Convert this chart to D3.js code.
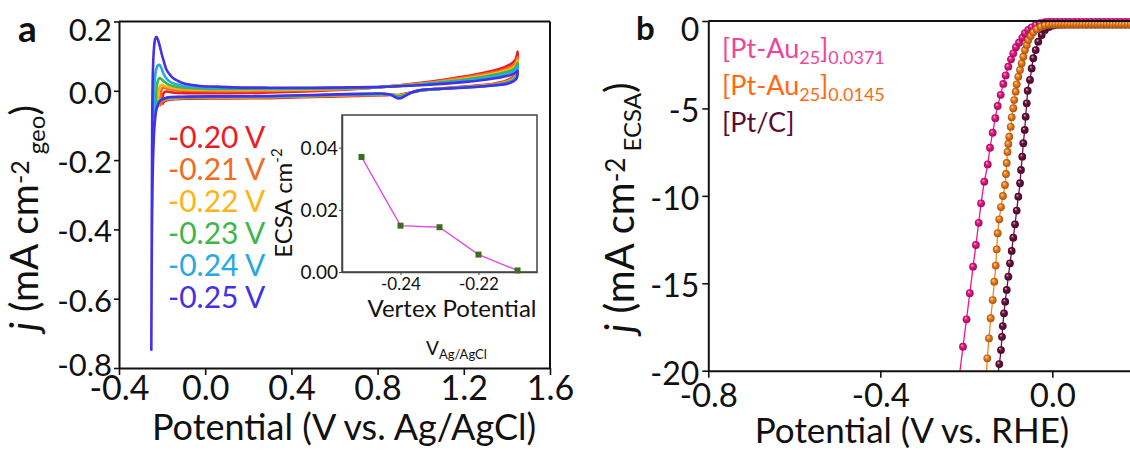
<!DOCTYPE html>
<html><head><meta charset="utf-8">
<script src="https://cdn.jsdelivr.net/npm/d3@7"></script>
<style>
body{margin:0;background:#fff}
svg{display:block}
text{font-family:Lato,"Open Sans",sans-serif;fill:#111}
</style>
</head><body>
<svg id="chart" width="1130" height="453"></svg>
<script>
// ---------------- DATA ----------------
// Panel a: CV loops [potential V vs Ag/AgCl, current mA cm-2 geo]
const cvLabels = ["-0.20 V","-0.21 V","-0.22 V","-0.23 V","-0.24 V","-0.25 V"];
const cv_m020 = [[-0.20,-0.04],[-0.198,-0.02],[-0.194,-0.008],[-0.188,-0.003],[-0.18,-0.002],[-0.16,-0.004],[-0.12,-0.006],[-0.05,-0.007],[0.1,-0.007],[0.3,-0.005],[0.5,-0.001],[0.7,0.005],[0.8,0.01],[0.9,0.016],[1.0,0.023],[1.1,0.031],[1.2,0.041],[1.3,0.053],[1.38,0.066],[1.42,0.078],[1.44,0.09],[1.45,0.113],
  [1.45,0.09],[1.445,0.06],[1.43,0.041],[1.4,0.03],[1.35,0.022],[1.3,0.017],[1.2,0.012],[1.1,0.007],[1.0,0.001],[0.96,-0.004],[0.93,-0.008],[0.91,-0.011],[0.895,-0.012],[0.88,-0.012],[0.86,-0.012],[0.82,-0.013],[0.7,-0.015],[0.5,-0.018],[0.3,-0.021],[0.1,-0.022],[-0.1,-0.023],[-0.16,-0.025],[-0.185,-0.029],[-0.195,-0.034],[-0.2,-0.04]];
const cv_m021 = [[-0.21,-0.045],[-0.208,-0.02],[-0.204,0.0],[-0.198,0.008],[-0.19,0.009],[-0.175,0.006],[-0.14,0.002],[-0.08,0.0],[0.0,-0.001],[0.2,-0.001],[0.5,0.002],[0.7,0.006],[0.8,0.01],[0.9,0.015],[1.0,0.021],[1.1,0.029],[1.2,0.038],[1.3,0.049],[1.38,0.06],[1.42,0.07],[1.44,0.08],[1.45,0.098],
  [1.45,0.08],[1.445,0.055],[1.43,0.038],[1.4,0.028],[1.35,0.02],[1.3,0.016],[1.2,0.011],[1.1,0.006],[1.0,0.001],[0.96,-0.005],[0.93,-0.009],[0.91,-0.012],[0.895,-0.013],[0.88,-0.012],[0.86,-0.011],[0.82,-0.012],[0.7,-0.013],[0.5,-0.016],[0.3,-0.019],[0.1,-0.02],[-0.1,-0.021],[-0.17,-0.024],[-0.195,-0.029],[-0.205,-0.035],[-0.21,-0.045]];
const cv_m022 = [[-0.22,-0.05],[-0.218,-0.02],[-0.214,0.005],[-0.208,0.015],[-0.2,0.017],[-0.19,0.014],[-0.17,0.01],[-0.13,0.006],[-0.08,0.004],[0.0,0.003],[0.2,0.002],[0.5,0.004],[0.7,0.007],[0.8,0.01],[0.9,0.015],[1.0,0.02],[1.1,0.027],[1.2,0.035],[1.3,0.045],[1.38,0.056],[1.42,0.064],[1.44,0.073],[1.45,0.088],
  [1.45,0.075],[1.445,0.05],[1.43,0.035],[1.4,0.026],[1.35,0.019],[1.3,0.015],[1.2,0.01],[1.1,0.006],[1.0,0.001],[0.96,-0.005],[0.93,-0.01],[0.91,-0.013],[0.895,-0.014],[0.88,-0.013],[0.86,-0.011],[0.82,-0.011],[0.7,-0.012],[0.5,-0.015],[0.3,-0.018],[0.1,-0.019],[-0.1,-0.02],[-0.18,-0.023],[-0.205,-0.028],[-0.215,-0.036],[-0.22,-0.05]];
const cv_m023 = [[-0.23,-0.06],[-0.228,-0.02],[-0.224,0.015],[-0.218,0.032],[-0.212,0.037],[-0.204,0.034],[-0.19,0.026],[-0.17,0.018],[-0.13,0.011],[-0.08,0.008],[0.0,0.006],[0.2,0.005],[0.5,0.006],[0.7,0.008],[0.8,0.01],[0.9,0.014],[1.0,0.019],[1.1,0.025],[1.2,0.032],[1.3,0.041],[1.38,0.051],[1.42,0.059],[1.44,0.067],[1.45,0.08],
  [1.45,0.068],[1.445,0.045],[1.43,0.032],[1.4,0.024],[1.35,0.018],[1.3,0.014],[1.2,0.01],[1.1,0.006],[1.0,0.001],[0.96,-0.005],[0.93,-0.011],[0.91,-0.015],[0.895,-0.016],[0.88,-0.014],[0.86,-0.011],[0.82,-0.01],[0.7,-0.011],[0.5,-0.014],[0.3,-0.017],[0.1,-0.018],[-0.1,-0.019],[-0.18,-0.022],[-0.21,-0.028],[-0.222,-0.038],[-0.23,-0.06]];
const cv_m024 = [[-0.24,-0.08],[-0.238,-0.02],[-0.234,0.03],[-0.228,0.06],[-0.22,0.073],[-0.213,0.075],[-0.205,0.068],[-0.194,0.05],[-0.18,0.036],[-0.163,0.026],[-0.13,0.018],[-0.102,0.014],[-0.05,0.011],[0.0,0.009],[0.1,0.008],[0.3,0.007],[0.5,0.008],[0.7,0.009],[0.8,0.011],[0.9,0.014],[1.0,0.018],[1.1,0.023],[1.2,0.029],[1.3,0.037],[1.38,0.046],[1.42,0.053],[1.44,0.06],[1.45,0.07],
  [1.45,0.06],[1.445,0.04],[1.43,0.03],[1.4,0.022],[1.35,0.017],[1.3,0.014],[1.2,0.01],[1.1,0.006],[1.0,0.002],[0.96,-0.004],[0.93,-0.012],[0.91,-0.018],[0.895,-0.019],[0.88,-0.016],[0.86,-0.011],[0.82,-0.009],[0.7,-0.01],[0.5,-0.013],[0.3,-0.016],[0.1,-0.017],[-0.1,-0.018],[-0.18,-0.021],[-0.21,-0.028],[-0.225,-0.04],[-0.235,-0.06],[-0.24,-0.08]];
const cv_m025 = [[-0.250,-0.75],[-0.248,-0.4],[-0.246,-0.1],[-0.243,0.05],[-0.238,0.12],[-0.232,0.15],[-0.226,0.156],[-0.218,0.145],[-0.21,0.127],[-0.202,0.107],[-0.194,0.089],[-0.179,0.06],[-0.162,0.045],[-0.148,0.036],[-0.125,0.028],[-0.102,0.022],[-0.06,0.017],[-0.024,0.014],[0.05,0.012],[0.129,0.010],[0.3,0.009],[0.5,0.009],[0.7,0.01],[0.8,0.011],[0.9,0.013],[1.0,0.016],[1.1,0.02],[1.2,0.025],[1.3,0.032],[1.38,0.04],[1.42,0.046],[1.44,0.052],[1.45,0.058],
  [1.45,0.05],[1.445,0.035],[1.43,0.027],[1.40,0.02],[1.35,0.016],[1.3,0.013],[1.2,0.009],[1.1,0.006],[1.0,0.002],[0.96,-0.004],[0.93,-0.014],[0.91,-0.021],[0.895,-0.022],[0.88,-0.018],[0.86,-0.011],[0.82,-0.008],[0.7,-0.009],[0.5,-0.012],[0.3,-0.015],[0.1,-0.016],[-0.1,-0.017],[-0.18,-0.02],[-0.21,-0.03],[-0.225,-0.05],[-0.235,-0.1],[-0.242,-0.2],[-0.247,-0.4],[-0.25,-0.75]];
const cvSeries = [cv_m020, cv_m021, cv_m022, cv_m023, cv_m024, cv_m025];
const xTicksA = [-0.4, 0.0, 0.4, 0.8, 1.2, 1.6];
const yTicksA = [0.2, 0.0, -0.2, -0.4, -0.6, -0.8];

// Inset: ECSA vs vertex potential
const insetVertex = [-0.25, -0.24, -0.23, -0.22, -0.21];
const insetECSA   = [0.0370, 0.0149, 0.0144, 0.0056, 0.0005];
const xTicksInset = [-0.24, -0.22];
const yTicksInset = [0.00, 0.02, 0.04];

// Panel b: LSV [potential V vs RHE, j mA cm-2 ECSA]
const lsvNames = ["[Pt-Au25]0.0371","[Pt-Au25]0.0145","[Pt/C]"];
const lsvPink = [[-0.2172,-20.5],[-0.2077,-18.63],[-0.1995,-17.06],[-0.1919,-15.57],[-0.1842,-14.05],[-0.1777,-12.81],[-0.1712,-11.54],[-0.1656,-10.43],[-0.1581,-9.19],[-0.1502,-8.20],[-0.1449,-7.25],[-0.1386,-6.39],[-0.1326,-5.56],[-0.1270,-4.86],[-0.1200,-4.22],[-0.1140,-3.60],[-0.1084,-3.11],[-0.1023,-2.61],[-0.0960,-2.19],[-0.0907,-1.85],[-0.0844,-1.50],[-0.0774,-1.24],[-0.0698,-0.96],[-0.0635,-0.70],[-0.0558,-0.51],[-0.0479,-0.36],[-0.0386,-0.23],[-0.0286,-0.13],[-0.0170,-0.07],[-0.008,-0.05],[0.0,-0.05],[0.01,-0.05],[0.02,-0.05],[0.03,-0.05],[0.04,-0.05],[0.05,-0.05],[0.06,-0.05],[0.07,-0.05],[0.08,-0.05],[0.09,-0.05],[0.10,-0.05],[0.11,-0.05],[0.12,-0.05],[0.13,-0.05],[0.14,-0.05],[0.15,-0.05],[0.16,-0.05],[0.17,-0.05],[0.18,-0.05],[0.19,-0.05]];
const lsvOrange = [[-0.1542,-20.5],[-0.1512,-19.29],[-0.1472,-18.15],[-0.1433,-17.00],[-0.1386,-15.96],[-0.1349,-14.91],[-0.1316,-13.99],[-0.1293,-13.06],[-0.1270,-12.14],[-0.1233,-11.34],[-0.1193,-10.64],[-0.1147,-10.01],[-0.1100,-9.38],[-0.1077,-8.75],[-0.1060,-8.12],[-0.1042,-7.49],[-0.1023,-7.03],[-0.1000,-6.62],[-0.0967,-6.05],[-0.0944,-5.51],[-0.0907,-4.99],[-0.0884,-4.52],[-0.0851,-4.04],[-0.0828,-3.62],[-0.0791,-3.19],[-0.0751,-2.80],[-0.0712,-2.42],[-0.0674,-2.04],[-0.0635,-1.66],[-0.0595,-1.37],[-0.0558,-1.09],[-0.0502,-0.86],[-0.0442,-0.65],[-0.0363,-0.47],[-0.0270,-0.33],[-0.0170,-0.25],[-0.008,-0.22],[0.0,-0.21],[0.007,-0.21],[0.014,-0.2],[0.021,-0.2],[0.028,-0.2],[0.035,-0.2],[0.042,-0.2],[0.049,-0.2],[0.056,-0.2],[0.063,-0.2],[0.070,-0.2],[0.077,-0.2],[0.084,-0.2],[0.091,-0.2],[0.098,-0.2],[0.105,-0.2],[0.112,-0.2],[0.119,-0.2],[0.126,-0.2],[0.133,-0.2],[0.140,-0.2],[0.147,-0.2],[0.154,-0.2],[0.161,-0.2],[0.168,-0.2],[0.175,-0.2],[0.182,-0.2],[0.189,-0.2]];
const lsvMaroon = [[-0.1279,-20.5],[-0.1233,-19.62],[-0.1193,-18.82],[-0.1170,-18.06],[-0.1153,-17.45],[-0.1123,-16.72],[-0.1095,-16.05],[-0.1060,-15.38],[-0.1023,-14.62],[-0.0984,-13.86],[-0.0944,-13.15],[-0.0907,-12.39],[-0.0867,-11.63],[-0.0828,-10.84],[-0.0791,-10.05],[-0.0751,-9.28],[-0.0728,-8.52],[-0.0698,-7.76],[-0.0674,-6.99],[-0.0642,-6.23],[-0.0619,-5.47],[-0.0595,-4.71],[-0.0572,-3.99],[-0.0519,-3.37],[-0.0479,-2.71],[-0.0442,-2.13],[-0.0386,-1.66],[-0.0326,-1.18],[-0.0247,-0.80],[-0.0170,-0.51],[-0.0077,-0.34],[0.0016,-0.26],[0.01,-0.22],[0.02,-0.21],[0.03,-0.2],[0.04,-0.2],[0.05,-0.2],[0.06,-0.2],[0.07,-0.2],[0.08,-0.2],[0.09,-0.2],[0.10,-0.2],[0.11,-0.2],[0.12,-0.2],[0.13,-0.2],[0.14,-0.2],[0.15,-0.2],[0.16,-0.2],[0.17,-0.2],[0.18,-0.2],[0.19,-0.2]];
const lsvSeries = [lsvPink, lsvOrange, lsvMaroon];
const xTicksB = [-0.8, -0.4, 0.0];
const yTicksB = [0, -5, -10, -15, -20];

// ---------------- STYLES ----------------
const cvColors = ["#ec1c24","#f36a21","#fbb515","#3cb649","#25a9e0","#4431e6"];
const lsvColors = ["#ee1688","#f7801a","#6b1040"];
const lsvTextColors = ["#f0449c","#ff6a10","#5a0c36"];
const hy = s => s.replace(/\u2212/g, "-");

const svg = d3.select("#chart");
const defs = svg.append("defs");

// ---------------- PANEL A ----------------
const xA = d3.scaleLinear().domain([-0.4, 1.6]).range([119, 550]);
const yA = d3.scaleLinear().domain([-0.8, 0.2]).range([368, 21.5]);

defs.append("clipPath").attr("id","clipA").append("rect")
  .attr("x",119).attr("y",21.5).attr("width",431).attr("height",346.5);

const gA = svg.append("g");
const cvLine = d3.line().x(d => xA(d[0])).y(d => yA(d[1])).curve(d3.curveCatmullRom.alpha(0.5));
gA.append("g").attr("clip-path","url(#clipA)")
  .selectAll("path").data(cvSeries).join("path")
  .attr("d", cvLine).attr("fill","none")
  .attr("stroke",(d,i)=>cvColors[i]).attr("stroke-width",2.6).attr("stroke-linejoin","round");

// frame top/right
gA.append("line").attr("x1",119).attr("x2",550).attr("y1",21.5).attr("y2",21.5).attr("stroke","#111").attr("stroke-width",2);
gA.append("line").attr("x1",550).attr("x2",550).attr("y1",21.5).attr("y2",368).attr("stroke","#111").attr("stroke-width",2);

const axA_x = gA.append("g").attr("transform","translate(0,368)")
  .call(d3.axisBottom(xA).tickValues(xTicksA).tickSize(7).tickSizeOuter(0).tickFormat(d=>hy(d3.format(".1f")(d))));
axA_x.selectAll("text").attr("font-size",34).attr("y",32).attr("dy",0).attr("fill","#111");
const axA_y = gA.append("g").attr("transform","translate(119,0)")
  .call(d3.axisLeft(yA).tickValues(yTicksA).tickSize(5).tickSizeOuter(0).tickFormat(d=>hy(d3.format(".1f")(d))));
axA_y.selectAll("text").attr("font-size",31).attr("x",-7)
  .attr("dy",(d)=> d===0.2 ? "0.62em" : (d===-0.8 ? "0.25em" : "0.4em")).attr("fill","#111");
[axA_x, axA_y].forEach(a=>{a.select(".domain").attr("stroke","#111").attr("stroke-width",2); a.selectAll(".tick line").attr("stroke","#111").attr("stroke-width",1.6);});

// legend a
gA.append("g").selectAll("text").data(cvLabels).join("text")
  .attr("x",168).attr("y",(d,i)=>148+32*i).attr("font-size",30)
  .style("fill",(d,i)=>cvColors[i]).text(d=>d);

// y label a
const yLabA = svg.append("text").attr("transform","translate(38,331) rotate(-90)").attr("font-size",39);
yLabA.append("tspan").attr("font-style","italic").text("j");
yLabA.append("tspan").text(" (mA cm");
yLabA.append("tspan").attr("font-size",25).attr("dy",-9).text("-2");
yLabA.append("tspan").attr("font-size",24).attr("dy",16).text(" geo");
yLabA.append("tspan").attr("dy",-7).text(")");
// x label a
svg.append("text").attr("x",344).attr("y",440).attr("text-anchor","middle").attr("font-size",36).text("Potential (V vs. Ag/AgCl)");
svg.append("text").attr("x",18).attr("y",42).attr("font-size",37).attr("font-weight","bold").text("a");

// ---------------- INSET ----------------
const xI = d3.scaleLinear().domain([-0.255, -0.205]).range([342, 537]);
const yI = d3.scaleLinear().domain([0, 0.0505]).range([272, 115]);
const gI = svg.append("g");
gI.append("rect").attr("x",342).attr("y",115).attr("width",195).attr("height",157).attr("fill","#fff").attr("stroke","#444").attr("stroke-width",1.5);
const axI_x = gI.append("g").attr("transform","translate(0,272)")
  .call(d3.axisBottom(xI).tickValues(xTicksInset).tickSize(3).tickSizeOuter(0).tickFormat(d=>hy(d3.format(".2f")(d))));
axI_x.selectAll("text").attr("font-size",17).attr("y",18).attr("dy",0).attr("fill","#111");
const axI_y = gI.append("g").attr("transform","translate(342,0)")
  .call(d3.axisLeft(yI).tickValues(yTicksInset).tickSize(3).tickSizeOuter(0).tickFormat(d3.format(".2f")));
axI_y.selectAll("text").attr("font-size",19).attr("x",-4).attr("dy","0.36em").attr("fill","#111");
[axI_x, axI_y].forEach(a=>{a.select(".domain").attr("stroke","#444").attr("stroke-width",1.5); a.selectAll(".tick line").attr("stroke","#444");});
const insetPts = insetVertex.map((v,i)=>[v, insetECSA[i]]);
gI.append("path").datum(insetPts).attr("d", d3.line().x(d=>xI(d[0])).y(d=>yI(d[1])))
  .attr("fill","none").attr("stroke","#e04ee0").attr("stroke-width",1.4);
gI.selectAll("rect.m").data(insetPts).join("rect").attr("class","m")
  .attr("x",d=>xI(d[0])-3).attr("y",d=>yI(d[1])-3).attr("width",6).attr("height",6)
  .attr("fill","#3c6e1c");
const yLabI = gI.append("text").attr("transform","translate(292,203) rotate(-90)").attr("text-anchor","middle").attr("font-size",24);
yLabI.append("tspan").text("ECSA cm");
yLabI.append("tspan").attr("font-size",15).attr("dy",-10).text("-2");
gI.append("text").attr("x",452).attr("y",317).attr("text-anchor","middle").attr("font-size",24).text("Vertex Potential");
const vLab = gI.append("text").attr("x",426).attr("y",355).attr("font-size",19);
vLab.append("tspan").text("V");
vLab.append("tspan").attr("font-size",13).attr("dy",4).text("Ag/AgCl");

// ---------------- PANEL B ----------------
const xB = d3.scaleLinear().domain([-0.8, 0.2]).range([708.3, 1138.3]);
const yB = d3.scaleLinear().domain([-20, 0]).range([370.7, 21]);
defs.append("clipPath").attr("id","clipB").append("rect")
  .attr("x",708.3).attr("y",10).attr("width",430).attr("height",360.7);

lsvColors.forEach((c,i)=>{
  const g = defs.append("radialGradient").attr("id","ball"+i).attr("cx","50%").attr("cy","50%").attr("r","50%").attr("fx","35%").attr("fy","30%");
  g.append("stop").attr("offset","0%").attr("stop-color", d3.interpolateRgb(c,"#fff")(0.75));
  g.append("stop").attr("offset","40%").attr("stop-color", c);
  g.append("stop").attr("offset","100%").attr("stop-color", d3.interpolateRgb(c,"#000")(0.35));
});

const gB = svg.append("g");
const lsvLine = d3.line().x(d=>xB(d[0])).y(d=>yB(d[1])).curve(d3.curveMonotoneX);
const drawOrder = [2, 0, 1];
const plotB = gB.append("g").attr("clip-path","url(#clipB)");
drawOrder.forEach(i=>{
  const s = plotB.append("g");
  s.append("path").datum(lsvSeries[i]).attr("d", lsvLine).attr("fill","none")
    .attr("stroke", lsvColors[i]).attr("stroke-width",1.3);
  s.selectAll("circle").data(lsvSeries[i]).join("circle")
    .attr("cx",d=>xB(d[0])).attr("cy",d=>yB(d[1])).attr("r",3.9)
    .attr("fill","url(#ball"+i+")");
});

gB.append("line").attr("x1",708.3).attr("x2",1130).attr("y1",21).attr("y2",21).attr("stroke","#111").attr("stroke-width",2);
const axB_x = gB.append("g").attr("transform","translate(0,370.7)")
  .call(d3.axisBottom(xB).tickValues(xTicksB).tickSize(7).tickSizeOuter(0).tickFormat(d=>hy(d3.format(".1f")(d))));
axB_x.selectAll("text").attr("font-size",33).attr("y",36).attr("dy",0).attr("fill","#111");
const axB_y = gB.append("g").attr("transform","translate(708.3,0)")
  .call(d3.axisLeft(yB).tickValues(yTicksB).tickSize(6).tickSizeOuter(0).tickFormat(d=>hy(d3.format("d")(d))));
axB_y.selectAll("text").attr("font-size",32).attr("x",-9).attr("dy",(d)=> d===0 ? "0.6em" : "0.42em").attr("fill","#111");
[axB_x, axB_y].forEach(a=>{a.select(".domain").attr("stroke","#111").attr("stroke-width",2); a.selectAll(".tick line").attr("stroke","#111").attr("stroke-width",1.6);});

// legend b
const legB = gB.append("g");
[0,1].forEach(i=>{
  const t = legB.append("text").attr("x",722).attr("y",58+37*i).attr("font-size",27).style("fill",lsvTextColors[i]);
  t.append("tspan").text("[Pt-Au");
  t.append("tspan").attr("font-size",18).attr("dy",6).text("25");
  t.append("tspan").attr("dy",-6).text("]");
  t.append("tspan").attr("font-size",18).attr("dy",6).text(lsvNames[i].split("]")[1]);
});
legB.append("text").attr("x",722).attr("y",132).attr("font-size",27).style("fill",lsvTextColors[2]).text(lsvNames[2]);

const yLabB = svg.append("text").attr("transform","translate(634,333) rotate(-90)").attr("font-size",40);
yLabB.append("tspan").attr("font-style","italic").text("j");
yLabB.append("tspan").text(" (mA cm");
yLabB.append("tspan").attr("font-size",26).attr("dy",-9).text("-2");
yLabB.append("tspan").attr("font-size",24).attr("dy",16).text(" ECSA");
yLabB.append("tspan").attr("dy",-7).text(")");
svg.append("text").attr("x",912).attr("y",443).attr("text-anchor","middle").attr("font-size",35).text("Potential (V vs. RHE)");
svg.append("text").attr("x",636).attr("y",40).attr("font-size",33).attr("font-weight","bold").text("b");
</script>
</body></html>
